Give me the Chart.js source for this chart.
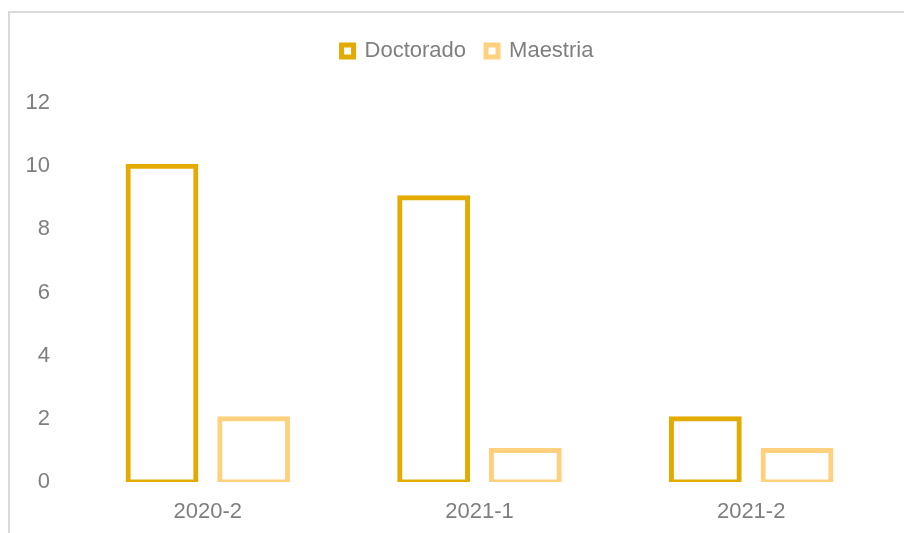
<!DOCTYPE html>
<html>
<head>
<meta charset="utf-8">
<title>Doctorado y Maestria por periodo</title>
<script src="https://cdn.jsdelivr.net/npm/chart.js@4.4.0/dist/chart.umd.min.js"></script>
<style>
    html, body { margin: 0; padding: 0; background: #ffffff; overflow: hidden; }
    #marco {
        position: absolute;
        left: 8px; top: 11px;
        width: 894px; height: 520px;
        border-left: 2px solid #d9d9d9;
        border-top: 2px solid #d9d9d9;
    }
</style>
</head>
<body>
<div id="marco"><canvas id="graficoPosgrados"></canvas></div>
<script>
// datos
const periodos = ['2020-2', '2021-1', '2021-2']
const doctorado = [10, 9, 2]
const maestria = [2, 1, 1]
const marcasY = [0, 2, 4, 6, 8, 10, 12]

const colorTexto = '#7f7f7f'
const fuente = { family: "'Liberation Sans', Arial, sans-serif", size: 22 }

// aire bajo la leyenda y leyenda algo corrida a la derecha, como en el original
const ajusteLeyenda = {
    id: 'ajusteLeyenda',
    beforeInit(chart) {
        const fitOriginal = chart.legend.fit
        chart.legend.fit = function() {
            fitOriginal.bind(chart.legend)()
            this.height += 31
        }
        const drawOriginal = chart.legend.draw
        chart.legend.draw = function() {
            chart.ctx.save()
            chart.ctx.translate(19, 0)
            drawOriginal.bind(chart.legend)()
            chart.ctx.restore()
        }
    }
}

document.addEventListener('DOMContentLoaded', () => {
    let lienzo = document.getElementById('graficoPosgrados')

    let graficoPosgrados = new Chart(lienzo, {
        type: 'bar',
        data: {
            labels: periodos,
            datasets: [
                {
                    label: 'Doctorado',
                    data: doctorado,
                    backgroundColor: '#ffffff',
                    borderColor: '#E3AB00',
                    borderWidth: 5,
                    borderSkipped: false,
                    inflateAmount: 2.5,
                    categoryPercentage: 0.675,
                    barPercentage: 0.74
                },
                {
                    label: 'Maestria',
                    data: maestria,
                    backgroundColor: '#ffffff',
                    borderColor: '#FFD17F',
                    borderWidth: 5,
                    borderSkipped: false,
                    inflateAmount: 2.5,
                    categoryPercentage: 0.675,
                    barPercentage: 0.74
                }
            ]
        },
        options: {
            responsive: true,
            maintainAspectRatio: false,
            animation: false,
            layout: { padding: { top: 7, left: 0, right: 17, bottom: 7 } },
            plugins: {
                tooltip: { enabled: false },
                legend: {
                    position: 'top',
                    labels: {
                        color: colorTexto,
                        font: fuente,
                        boxWidth: 12,
                        boxHeight: 12,
                        padding: 20
                    }
                }
            },
            scales: {
                x: {
                    grid: { display: false, drawTicks: false },
                    border: { display: false },
                    ticks: { color: colorTexto, font: fuente, padding: 17 },
                    afterFit: eje => { eje.height = 44 }
                },
                y: {
                    min: marcasY[0],
                    max: marcasY[marcasY.length - 1],
                    grid: { display: false, drawTicks: false },
                    border: { display: false },
                    ticks: { color: colorTexto, font: fuente, padding: 22 },
                    afterBuildTicks: eje => { eje.ticks = marcasY.map(v => ({ value: v })) },
                    afterFit: eje => { eje.width = 62 }
                }
            }
        },
        plugins: [ajusteLeyenda]
    })
})
</script>
</body>
</html>
